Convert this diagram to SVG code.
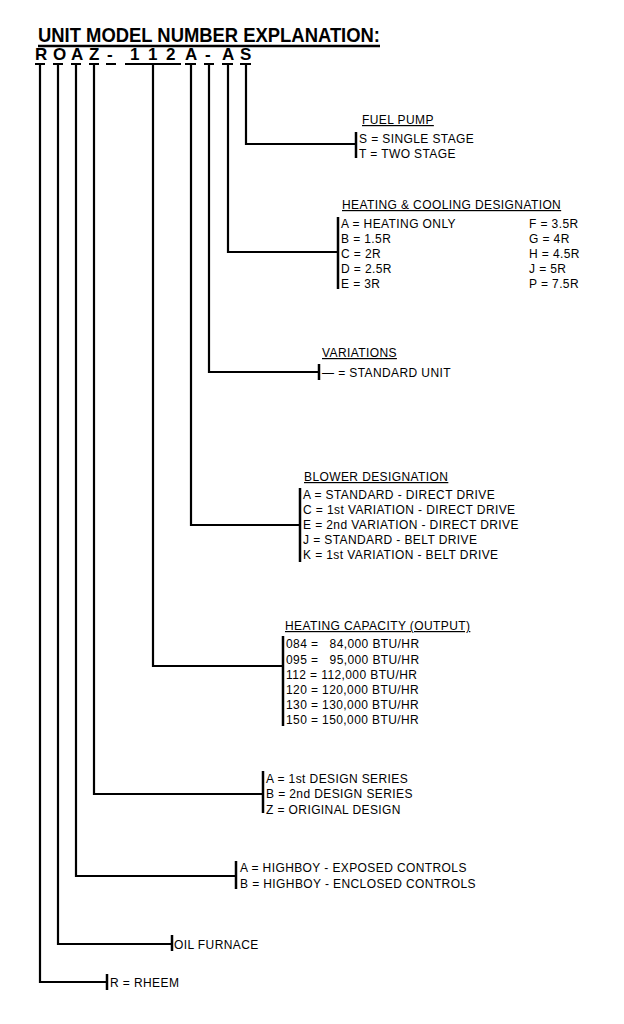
<svg xmlns="http://www.w3.org/2000/svg" width="624" height="1024" viewBox="0 0 624 1024">
<style>
text{font-family:"Liberation Sans",Arial,sans-serif;font-size:12px;letter-spacing:0.4px;fill:#000}
.h{text-decoration:underline}
.t{font-weight:bold;font-size:20px;letter-spacing:0}
.c{font-weight:bold;font-size:17px;letter-spacing:0}
.ln{stroke:#000;stroke-width:2.2;fill:none}
.br{stroke:#000;stroke-width:2.5}
</style>
<rect width="624" height="1024" fill="#fff"/>
<g id="title">
<text class="t" x="38" y="42" textLength="342" lengthAdjust="spacingAndGlyphs">UNIT MODEL NUMBER EXPLANATION:</text>
<line x1="38" y1="46" x2="380" y2="46" class="br"/>
<text class="c" x="35" y="60">R</text><text class="c" x="53" y="60">O</text><text class="c" x="71" y="60">A</text><text class="c" x="89" y="60">Z</text>
<text class="c" x="107" y="60">-</text>
<text class="c" x="130" y="60">1</text><text class="c" x="148" y="60">1</text><text class="c" x="166" y="60">2</text>
<text class="c" x="185" y="60">A</text><text class="c" x="205" y="60">-</text><text class="c" x="222" y="60">A</text><text class="c" x="240" y="60">S</text>
<g stroke="#000" stroke-width="2">
<line x1="35" y1="64" x2="45" y2="64"/><line x1="53" y1="64" x2="63" y2="64"/><line x1="71" y1="64" x2="81" y2="64"/><line x1="89" y1="64" x2="99" y2="64"/>
<line x1="106" y1="64" x2="116" y2="64"/><line x1="125" y1="64" x2="181" y2="64"/>
<line x1="185" y1="64" x2="196" y2="64"/><line x1="204" y1="64" x2="214" y2="64"/><line x1="222" y1="64" x2="233" y2="64"/><line x1="240" y1="64" x2="251" y2="64"/>
</g>
</g>
<g id="connectors" class="ln">
<polyline points="246,64 246,144 356,144"/>
<polyline points="228,64 228,252 338,252"/>
<polyline points="209,64 209,372 319,372"/>
<polyline points="191,64 191,525 300,525"/>
<polyline points="153,64 153,666 283,666"/>
<polyline points="94,64 94,794 263,794"/>
<polyline points="76,64 76,876 236,876"/>
<polyline points="58,64 58,944 172,944"/>
<polyline points="40,64 40,982 107,982"/>
</g>
<g id="fuel-pump">
<text class="h" x="362" y="124">FUEL PUMP</text>
<line x1="356" y1="132" x2="356" y2="158" class="br"/>
<text x="359" y="143">S = SINGLE STAGE</text>
<text x="359" y="158">T = TWO STAGE</text>
</g>
<g id="heating-cooling">
<text class="h" x="342" y="209">HEATING &amp; COOLING DESIGNATION</text>
<line x1="338" y1="217" x2="338" y2="289" class="br"/>
<text x="341" y="228">A = HEATING ONLY</text>
<text x="341" y="243">B = 1.5R</text>
<text x="341" y="258">C = 2R</text>
<text x="341" y="273">D = 2.5R</text>
<text x="341" y="288">E = 3R</text>
<text x="529" y="228">F = 3.5R</text>
<text x="529" y="243">G = 4R</text>
<text x="529" y="258">H = 4.5R</text>
<text x="529" y="273">J = 5R</text>
<text x="529" y="288">P = 7.5R</text>
</g>
<g id="variations">
<text class="h" x="322" y="357">VARIATIONS</text>
<line x1="319" y1="364" x2="319" y2="380" class="br"/>
<text x="322" y="377">— = STANDARD UNIT</text>
</g>
<g id="blower">
<text class="h" x="304" y="481">BLOWER DESIGNATION</text>
<line x1="300" y1="488" x2="300" y2="562" class="br"/>
<text x="303" y="499">A = STANDARD - DIRECT DRIVE</text>
<text x="303" y="514">C = 1st VARIATION - DIRECT DRIVE</text>
<text x="303" y="529">E = 2nd VARIATION - DIRECT DRIVE</text>
<text x="303" y="544">J = STANDARD - BELT DRIVE</text>
<text x="303" y="559">K = 1st VARIATION - BELT DRIVE</text>
</g>
<g id="heating-capacity">
<text class="h" x="285" y="630">HEATING CAPACITY (OUTPUT)</text>
<line x1="283" y1="636" x2="283" y2="726" class="br"/>
<text x="286" y="648" xml:space="preserve">084 =   84,000 BTU/HR</text>
<text x="286" y="664" xml:space="preserve">095 =   95,000 BTU/HR</text>
<text x="286" y="679">112 = 112,000 BTU/HR</text>
<text x="286" y="694">120 = 120,000 BTU/HR</text>
<text x="286" y="709">130 = 130,000 BTU/HR</text>
<text x="286" y="724">150 = 150,000 BTU/HR</text>
</g>
<g id="design-series">
<line x1="263" y1="771" x2="263" y2="813" class="br"/>
<text x="266" y="783">A = 1st DESIGN SERIES</text>
<text x="266" y="798">B = 2nd DESIGN SERIES</text>
<text x="266" y="814">Z = ORIGINAL DESIGN</text>
</g>
<g id="highboy">
<line x1="236" y1="861" x2="236" y2="889" class="br"/>
<text x="240" y="872">A = HIGHBOY - EXPOSED CONTROLS</text>
<text x="240" y="888">B = HIGHBOY - ENCLOSED CONTROLS</text>
</g>
<g id="oil-furnace">
<line x1="172" y1="935" x2="172" y2="951" class="br"/>
<text x="174" y="949">OIL FURNACE</text>
</g>
<g id="rheem">
<line x1="107" y1="974" x2="107" y2="990" class="br"/>
<text x="110" y="987">R = RHEEM</text>
</g>
</svg>
